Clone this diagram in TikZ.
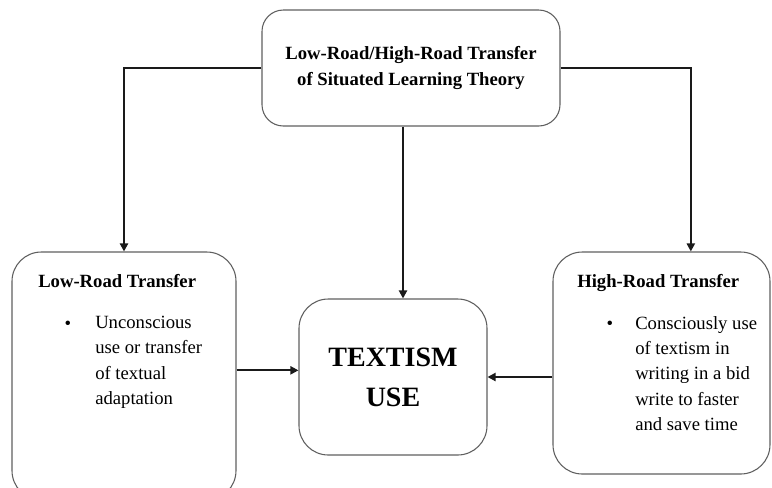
\documentclass[tikz,border=0pt]{standalone}
\usepackage{fontspec}
\setmainfont{Liberation Serif}
\usepackage{tikz}
\usetikzlibrary{positioning, arrows.meta}
\definecolor{bLine}{HTML}{5F5F5F}
\definecolor{aInk}{HTML}{1A1A1A}

\begin{document}
\begin{tikzpicture}[x=0.75pt, y=-0.75pt, >={Triangle[length=6pt,width=6pt]},
          box/.style={draw=bLine, line width=0.8pt, rounded corners=22pt, inner sep=0pt},
          ttl/.style={font=\fontsize{14}{19.5}\selectfont\bfseries, inner sep=0pt},
          txt/.style={font=\fontsize{14}{19}\selectfont, align=left, inner sep=0pt},
          link/.style={->, line width=1.5pt, aInk}]
        \useasboundingbox (0,0) rectangle (772,487);
        \node[box, rounded corners=16pt, minimum width=223.5pt, minimum height=87pt,
          ttl, align=center] (top) at (411,68) {Low-Road/High-Road Transfer\\of Situated Learning Theory};
        \node[box, minimum width=168pt, minimum height=186pt] (low) at (124,376) {};
        \node[box, minimum width=162.75pt, minimum height=166.5pt] (high) at (661.5,363) {};
        \node[box, minimum width=141pt, minimum height=117pt,
          font=\fontsize{21}{30}\selectfont\bfseries, align=center] (tex) at (393,377) {TEXTISM\\USE};
        % left box text
        \node[ttl, anchor=base west] (lowttl) at (38,287) {Low-Road Transfer};
        \node[txt, anchor=base] (lowdot) at (68,329) {\textbullet};
        \node[txt, anchor=north west] (lowtxt) at (95,316) {Unconscious\\use or transfer\\of textual\\adaptation};
        % right box text
        \node[ttl, anchor=base west] (highttl) at (577,287) {High-Road Transfer};
        \node[txt, anchor=base] (highdot) at (610,329) {\textbullet};
        \node[txt, anchor=north west] (hightxt) at (635,316) {Consciously use\\of textism in\\writing in a bid\\write to faster\\and save time};
        \draw[link] (top.west) -| (low.north);
        \draw[link] (top.east) -| ([xshift=22pt]high.north);
        \draw[link] ([xshift=-6pt]top.south) -- ([xshift=-6pt]top.south |- tex.north);
        \draw[link] ([yshift=5pt]tex.west -| low.east) -- ([yshift=5pt]tex.west);
        \draw[link] (high.west |- tex.east) -- (tex.east);
      \end{tikzpicture}
\end{document}
